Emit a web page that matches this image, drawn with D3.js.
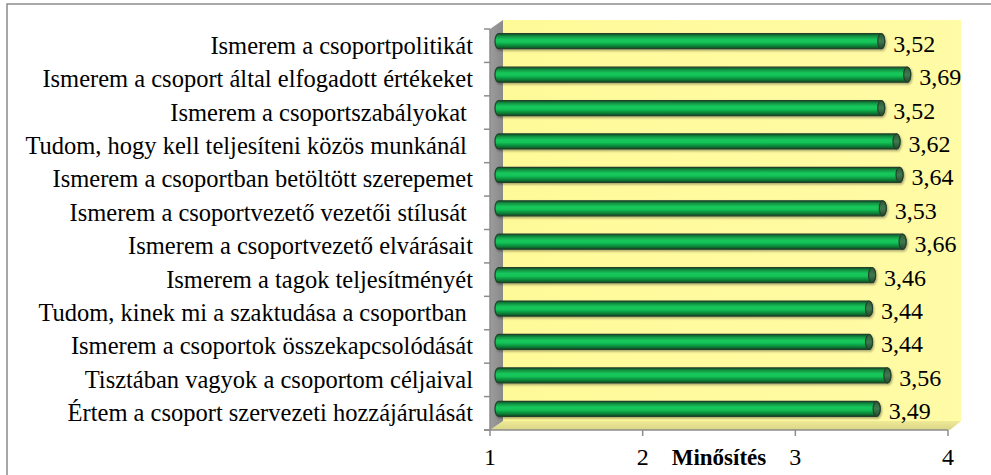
<!DOCTYPE html>
<html>
<head>
<meta charset="utf-8">
<script src="https://cdn.jsdelivr.net/npm/d3@7/dist/d3.min.js"></script>
<style>
  html, body { margin: 0; padding: 0; background: #fff; }
  svg { display: block; }
  text { font-family: "Liberation Serif", "Times New Roman", serif; fill: #000; white-space: pre; }
</style>
</head>
<body>
<svg id="chart" width="991" height="475"></svg>
<script>
// Statements (top to bottom) and their mean ratings
const categories = [
  "Ismerem a csoportpolitikát",
  "Ismerem a csoport által elfogadott értékeket",
  "Ismerem a csoportszabályokat ",
  "Tudom, hogy kell teljesíteni közös munkánál ",
  "Ismerem a csoportban betöltött szerepemet",
  "Ismerem a csoportvezető vezetői stílusát ",
  "Ismerem a csoportvezető elvárásait",
  "Ismerem a tagok teljesítményét",
  "Tudom, kinek mi a szaktudása a csoportban ",
  "Ismerem a csoportok összekapcsolódását",
  "Tisztában vagyok a csoportom céljaival",
  "Értem a csoport szervezeti hozzájárulását"
];
const values = [3.52, 3.69, 3.52, 3.62, 3.64, 3.53, 3.66, 3.46, 3.44, 3.44, 3.56, 3.49];
const valueLabels = ["3,52", "3,69", "3,52", "3,62", "3,64", "3,53", "3,66", "3,46", "3,44", "3,44", "3,56", "3,49"];
const xTicks = [1, 2, 3, 4];
const axisTitle = "Minősítés";

const svg = d3.select("#chart");

// plot geometry (front plane) and 3D depth offset
const plotLeft = 490, plotRight = 948, plotTop = 29, plotBottom = 430;
const depthX = 13, depthY = -9;

const x = d3.scaleLinear().domain([1, 4]).range([plotLeft, plotRight]);
const y = d3.scaleBand().domain(categories).range([plotTop, plotBottom]).padding(0);

const defs = svg.append("defs");

const wallGrad = defs.append("linearGradient").attr("id", "wall").attr("x1", 0).attr("y1", 0).attr("x2", 1).attr("y2", 0);
wallGrad.append("stop").attr("offset", "0%").attr("stop-color", "#fffa98");
wallGrad.append("stop").attr("offset", "100%").attr("stop-color", "#fffba6");

const sideGrad = defs.append("linearGradient").attr("id", "side").attr("x1", 0).attr("y1", 0).attr("x2", 1).attr("y2", 0);
sideGrad.append("stop").attr("offset", "0%").attr("stop-color", "#9c9c9c");
sideGrad.append("stop").attr("offset", "100%").attr("stop-color", "#8a8a8a");

const floorGrad = defs.append("linearGradient").attr("id", "floor").attr("x1", 0).attr("y1", 0).attr("x2", 0).attr("y2", 1);
floorGrad.append("stop").attr("offset", "0%").attr("stop-color", "#eeea96");
floorGrad.append("stop").attr("offset", "100%").attr("stop-color", "#d9d588");

const barGrad = defs.append("linearGradient").attr("id", "barFill").attr("x1", 0).attr("y1", 0).attr("x2", 0).attr("y2", 1);
[["0%", "#0a5526"], ["18%", "#129544"], ["40%", "#16c95c"], ["58%", "#12c157"], ["80%", "#0c883a"], ["100%", "#094a20"]]
  .forEach(([o, c]) => barGrad.append("stop").attr("offset", o).attr("stop-color", c));

const capGrad = defs.append("linearGradient").attr("id", "capFill").attr("x1", 0).attr("y1", 0).attr("x2", 0).attr("y2", 1);
[["0%", "#2c5a38"], ["50%", "#3f7a4f"], ["100%", "#24482c"]]
  .forEach(([o, c]) => capGrad.append("stop").attr("offset", o).attr("stop-color", c));

const shadow = defs.append("filter").attr("id", "shadow").attr("x", "-5%").attr("y", "-50%").attr("width", "110%").attr("height", "200%");
shadow.append("feDropShadow").attr("dx", 1).attr("dy", 1.5).attr("stdDeviation", 1.2).attr("flood-color", "#000").attr("flood-opacity", 0.35);

// outer chart frame
svg.append("rect").attr("x", 7).attr("y", 4).attr("width", 1000).attr("height", 500)
  .attr("fill", "none").attr("stroke", "#8c8c8c").attr("stroke-width", 1.5);

// back wall
svg.append("rect")
  .attr("x", plotLeft + depthX).attr("y", plotTop + depthY)
  .attr("width", plotRight - plotLeft).attr("height", plotBottom - plotTop)
  .attr("fill", "url(#wall)");

// floor
svg.append("path")
  .attr("d", `M${plotLeft},${plotBottom} L${plotLeft + depthX},${plotBottom + depthY} L${plotRight + depthX},${plotBottom + depthY} L${plotRight + 2},${plotBottom} Z`)
  .attr("fill", "url(#floor)");

// side wall
svg.append("path")
  .attr("d", `M${plotLeft},${plotTop} L${plotLeft + depthX},${plotTop + depthY} L${plotLeft + depthX},${plotBottom + depthY} L${plotLeft},${plotBottom} Z`)
  .attr("fill", "url(#side)");

// axes lines
const axisColor = "#8c8c8c";
svg.append("line").attr("x1", plotLeft).attr("x2", plotLeft).attr("y1", plotTop).attr("y2", plotBottom)
  .attr("stroke", axisColor).attr("stroke-width", 1.5);
svg.append("line").attr("x1", plotLeft - 6).attr("x2", plotRight).attr("y1", plotBottom).attr("y2", plotBottom)
  .attr("stroke", axisColor).attr("stroke-width", 1.5);

// category ticks on the vertical axis
const bounds = categories.map(c => y(c)).concat([plotBottom]);
svg.append("g").selectAll("line").data(bounds).join("line")
  .attr("x1", plotLeft - 6).attr("x2", plotLeft)
  .attr("y1", d => d).attr("y2", d => d)
  .attr("stroke", axisColor).attr("stroke-width", 1.5);

// value axis ticks and labels
const xAxis = svg.append("g");
xAxis.selectAll("line").data(xTicks).join("line")
  .attr("x1", d => x(d)).attr("x2", d => x(d))
  .attr("y1", plotBottom).attr("y2", plotBottom + 6)
  .attr("stroke", axisColor).attr("stroke-width", 1.5);
xAxis.selectAll("text").data(xTicks).join("text")
  .attr("x", d => x(d)).attr("y", plotBottom + 35)
  .attr("text-anchor", "middle")
  .style("font-size", "24px")
  .text(d => d);

svg.append("text")
  .attr("x", (x(1) + x(4)) / 2).attr("y", plotBottom + 35)
  .attr("text-anchor", "middle")
  .style("font-size", "23px").style("font-weight", "bold")
  .text(axisTitle);

// category labels
svg.append("g").selectAll("text").data(categories).join("text")
  .attr("x", plotLeft - 17)
  .attr("y", d => y(d) + y.bandwidth() / 2 + 8)
  .attr("text-anchor", "end")
  .style("font-size", "24.5px")
  .text(d => d);

// cylinder bars, placed halfway into the depth
const barH = 15, rx = 3.5;
const bars = svg.append("g").selectAll("g").data(categories).join("g")
  .attr("filter", "url(#shadow)");

bars.append("path")
  .attr("d", (c, i) => {
    const x0 = x(1) + depthX / 2 + 2;
    const x1 = x(values[i]) + depthX / 2;
    const cy = y(c) + y.bandwidth() / 2 + depthY / 2;
    const t = cy - barH / 2, b = cy + barH / 2;
    return `M${x0},${t} L${x1},${t} A${rx},${barH / 2} 0 0 1 ${x1},${b} L${x0},${b} A${rx},${barH / 2} 0 0 1 ${x0},${t} Z`;
  })
  .attr("fill", "url(#barFill)")
  .attr("stroke", "#24402c").attr("stroke-width", 1.2);

bars.append("ellipse")
  .attr("cx", (c, i) => x(values[i]) + depthX / 2)
  .attr("cy", c => y(c) + y.bandwidth() / 2 + depthY / 2)
  .attr("rx", rx).attr("ry", barH / 2)
  .attr("fill", "url(#capFill)")
  .attr("stroke", "#24402c").attr("stroke-width", 1.2);

// value labels
svg.append("g").selectAll("text").data(categories).join("text")
  .attr("x", (c, i) => x(values[i]) + depthX / 2 + 12)
  .attr("y", c => y(c) + y.bandwidth() / 2 + 6)
  .style("font-size", "24px")
  .text((c, i) => valueLabels[i]);
</script>
</body>
</html>
